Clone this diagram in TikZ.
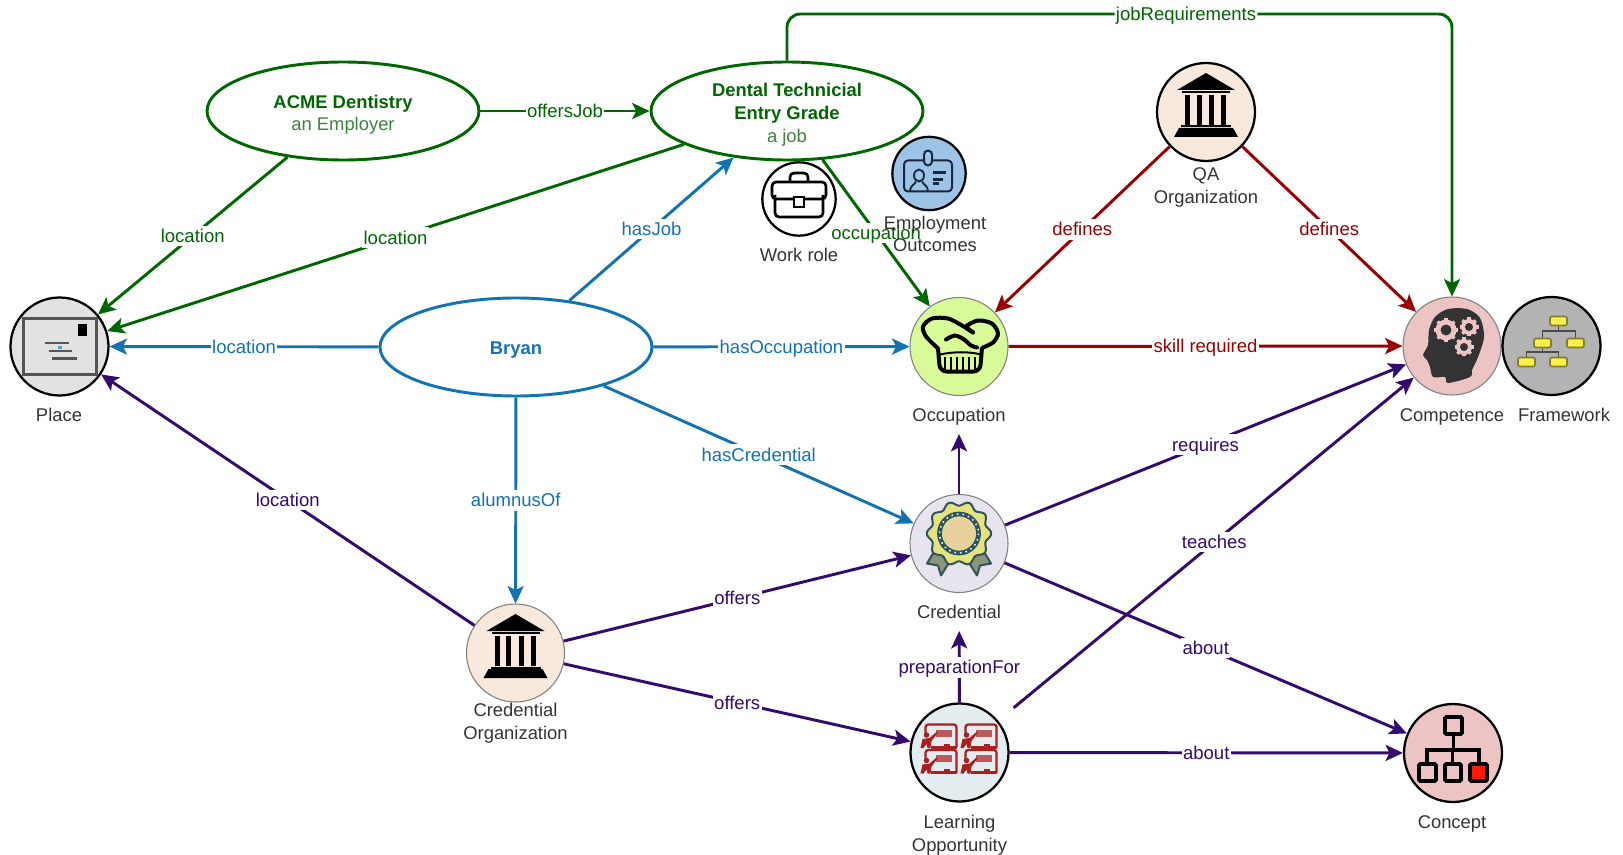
\documentclass[tikz,border=0pt]{standalone}
\usepackage{fontspec}
\setmainfont{Liberation Sans}
\usetikzlibrary{shapes.geometric, arrows.meta, positioning}
\definecolor{jobgreen}{RGB}{0, 102, 0}
\definecolor{jobsub}{RGB}{60, 130, 60}
\definecolor{personblue}{RGB}{17, 114, 180}
\definecolor{skillred}{RGB}{153, 0, 0}
\definecolor{credpurple}{RGB}{51, 10, 110}
\definecolor{captiongray}{RGB}{51, 51, 51}
\definecolor{bankfill}{RGB}{249, 233, 220}
\definecolor{placefill}{RGB}{226, 226, 226}
\definecolor{mailgray}{RGB}{85, 85, 85}
\definecolor{hatfill}{RGB}{216, 250, 152}
\definecolor{headfill}{RGB}{236, 196, 196}
\definecolor{framefill}{RGB}{179, 179, 179}
\definecolor{credfill}{RGB}{232, 228, 238}
\definecolor{learnfill}{RGB}{227, 237, 240}
\definecolor{badgefill}{RGB}{157, 195, 230}
\definecolor{ribbonteal}{RGB}{45, 85, 95}
\definecolor{ribbongray}{RGB}{142, 148, 120}
\definecolor{rosetteyellow}{RGB}{230, 226, 127}
\definecolor{rosettedisc}{RGB}{232, 208, 156}
\definecolor{boardred}{RGB}{170, 32, 32}
\definecolor{boxyellow}{RGB}{255, 238, 70}
\definecolor{boxedge}{RGB}{130, 125, 50}
\definecolor{badgenavy}{RGB}{25, 40, 65}
\tikzset{
  iconblack/.style={circle, draw=black, line width=1.7pt, minimum size=73.5pt, inner sep=0pt},
  icongray/.style={circle, draw=gray, line width=0.8pt, minimum size=73.5pt, inner sep=0pt},
  smallicon/.style={circle, draw=black, line width=1.7pt, minimum size=55pt, inner sep=0pt},
  bubble/.style={ellipse, line width=2.2pt, minimum width=204pt, minimum height=73.5pt, inner sep=-4pt, align=center, font=\fontsize{13.8}{17}\selectfont},
  caption/.style={text=captiongray, align=center, font=\fontsize{13.8}{17}\selectfont},
  onecaption/.style={caption, anchor=base},
  arrowedge/.style={line width=2.2pt, -{Stealth[length=13pt, width=12pt, inset=3pt]}},
  greenedge/.style={arrowedge, draw=jobgreen, text=jobgreen},
  blueedge/.style={arrowedge, draw=personblue, text=personblue},
  rededge/.style={arrowedge, draw=skillred, text=skillred},
  purpleedge/.style={arrowedge, draw=credpurple, text=credpurple},
  edgelabel/.style={fill=white, inner sep=1pt, text height=11.5pt, text depth=1.9pt, font=\fontsize{13.9}{16}\selectfont},
  bankicon/.pic={
    \fill (0,-39) -- (-29,-22) -- (29,-22) -- cycle;
    \fill (-24,-21) rectangle (24,-19);
    \foreach \c in {-21,-9.5,3,15} {
      \fill (\c,-17) rectangle (\c+5.3,13);
    }
    \fill (-25,13.5) rectangle (25,15.5);
    \fill (-27,16) -- (27,16) -- (32,25) -- (-32,25) -- cycle;
  },
  mailicon/.pic={
    \draw[line width=2.2pt, mailgray] (-36,-28) rectangle (37,28);
    \fill[black] (18,-22) rectangle (27,-10);
    \draw[line width=1.8pt, mailgray] (-15,-3.5) -- (9,-3.5);
    \draw[line width=1.8pt, mailgray] (-11,4.5) -- (12,4.5);
    \draw[line width=1.8pt, mailgray] (-8,12) -- (17,12);
    \fill[personblue!70] (-2,-0.5) rectangle (2,3);
  },
  haticon/.pic={
    \draw[line width=3pt, line cap=round, line join=round] plot[smooth] coordinates {(-21,2) (-33,-10) (-36,-20) (-27,-28) (-11,-28) (3,-21) (14,-14)};
    \draw[line width=3pt, line cap=round, line join=round] plot[smooth] coordinates {(8,-21) (19,-26) (33,-23) (39,-13) (34,-4) (24,1)};
    \draw[line width=3pt, line cap=round] plot[smooth] coordinates {(-13,-7) (-4,-11) (5,-7) (12,-1) (18,1)};
    \draw[line width=3pt, line cap=round, line join=round] plot[smooth] coordinates {(14,-14) (9,-18) (8,-21)};
    \draw[line width=3pt, rounded corners=5pt] (-21,2) -- (-19,25) -- (21,25) -- (23,1);
    \draw[line width=1.5pt] (-19,8) .. controls (-5,5) and (10,5) .. (22,8);
    \foreach \c in {-14,-8,-2,4,10,16} {
      \draw[line width=1.6pt] (\c,11) -- (\c,23);
    }
  },
  headicon/.pic={
    \fill[black!80] plot[smooth cycle, tension=0.5] coordinates {(-4,-37) (15,-37) (28,-28) (32,-9) (26,11) (20,24) (18,31) (-4,37) (-7,31) (-19,31) (-22,21) (-25,14) (-29,9) (-24,-1) (-23,-16) (-17,-29)};
    \foreach \cx/\cy/\r/\h in {-6/-16/12/5.5, 17/-19/9.5/4, 12/1/9.5/4} {
      \foreach \a in {0,45,...,135} {
        \draw[headfill, line width=2.4pt] (\cx,\cy) ++(\a:\r) -- ++(\a+180:2*\r);
      }
      \fill[headfill] (\cx,\cy) circle (\r-1.5);
      \fill[black!80] (\cx,\cy) circle (\h);
    }
  },
  treeicon/.pic={
    \draw[line width=0.8pt, black!70] (7,-25) -- (7,-15) (-9,-3) -- (-9,-15) -- (24,-15) -- (24,-3);
    \draw[line width=0.8pt, black!70] (-9,-3) -- (-9,6) (-25,16) -- (-25,6) -- (7,6) -- (7,16);
    \foreach \bx/\by in {7/-25, -9/-3, 24/-3, -25/16, 7/16} {
      \draw[boxedge, fill=boxyellow, line width=1.2pt, rounded corners=1.5pt] (\bx-8.5,\by-4.5) rectangle (\bx+8.5,\by+4.5);
    }
  },
  rosetteicon/.pic={
    \foreach \s in {-1,1} {
      \draw[ribbonteal, fill=ribbongray, line width=1.5pt, line join=round] (\s*23,15) -- (\s*6,23) -- (\s*18,42) -- (\s*21,32) -- (\s*32,30) -- cycle;
    }
    \draw[ribbonteal, fill=rosetteyellow, line width=1.5pt] plot[domain=0:360, samples=121, smooth] (\x:{30+2.2*cos(10*\x)}) -- cycle;
    \draw[ribbonteal, line width=3.6pt] (0,0) circle (19.5);
    \draw[learnfill, line width=1.2pt, dash pattern=on 1.2pt off 3pt] (0,0) circle (19.5);
    \fill[rosettedisc] (0,0) circle (16);
  },
  boardcell/.pic={
    \draw[boardred, line width=1.7pt, rounded corners=2pt] (-13,-3) -- (-13,-11.5) -- (18,-11.5) -- (18,11);
    \fill[boardred!75] (-3,-6.5) rectangle (13,0.5);
    \fill[boardred] (-12,-1) circle (2.8);
    \fill[boardred] (-18,12) -- (-16,3) -- (-9,2) -- (-2,-4) -- (-1,-3) -- (-7,5) -- (-8,12) -- (-11,12) -- (-12,8) -- (-15,12) -- cycle;
    \fill[boardred] (-8,9.5) rectangle (18,12.5);
    \fill[boardred] (5,7.5) rectangle (11,9.5);
  },
  classicon/.pic={
    \foreach \bx/\by in {-21/-16.5, 19/-16.5, -21/9, 19/9} {
      \pic at (\bx,\by) {boardcell};
    }
  },
  concepticon/.pic={
    \draw[line width=2.8pt, rounded corners=1pt] (-8,-36) rectangle (9,-19);
    \draw[line width=2.8pt] (0.5,-19) -- (0.5,-3) (-26,11) -- (-26,-3) -- (26,-3) -- (26,11) (-0.5,-3) -- (-0.5,11);
    \draw[line width=2.8pt, rounded corners=1pt] (-34,11) rectangle (-17,28);
    \draw[line width=2.8pt, rounded corners=1pt] (-8,11) rectangle (8,28);
    \draw[line width=2.8pt, rounded corners=1pt, fill=red!80!orange] (17,11) rectangle (34,28);
  },
  caseicon/.pic={
    \draw[line width=2pt, rounded corners=3pt] (-9,-17) -- (-9,-26) -- (9,-26) -- (9,-17);
    \draw[line width=2pt, rounded corners=3pt] (-27,-17) rectangle (27,0);
    \draw[line width=2pt, rounded corners=3pt] (-24,-4) -- (-24,18) -- (24,18) -- (24,-4);
    \draw[line width=2pt, fill=white] (-5,-2) rectangle (5,8);
  },
  badgeicon/.pic={
    \draw[badgenavy, line width=1.5pt, rounded corners=3pt] (-25,-13) rectangle (23,18);
    \draw[badgenavy, line width=1.5pt, fill=badgefill, rounded corners=3pt] (-5,-23) rectangle (3,-8);
    \draw[badgenavy, line width=1.4pt] (-10,2) ellipse (5 and 6);
    \draw[badgenavy, line width=1.4pt] (-19,18) .. controls (-19,12) and (-15,12) .. (-13,8) (-7,8) .. controls (-5,12) and (-1,12) .. (-1,18);
    \draw[badgenavy, line width=1.6pt] (4,-1) -- (17,-1) (4,6) -- (14,6) (4,10) -- (10,10);
  },
}

\begin{document}
\begin{tikzpicture}[x=0.75pt, y=-0.75pt]
  \useasboundingbox (0,0) rectangle (1623,855);

  % --- Ellipses ---
  \node[bubble, draw=jobgreen] (acme) at (343,111) {\rule{0pt}{15.5pt}\textcolor{jobgreen}{\bfseries ACME Dentistry}\\\textcolor{jobsub}{an Employer}};
  \node[bubble, draw=jobgreen] (dental) at (787,111) {\rule{0pt}{15.5pt}\textcolor{jobgreen}{\bfseries Dental Technicial}\\\textcolor{jobgreen}{\bfseries Entry Grade}\\\textcolor{jobsub}{a job}};
  \node[bubble, draw=personblue] (bryan) at (516,347) {\rule{0pt}{14.5pt}\textcolor{personblue}{\bfseries Bryan}};

  % --- Circles with their icons ---
  \node[iconblack, fill=placefill] (place) at (59.5,346.5) {};
  \pic at (place) {mailicon};
  \node[icongray, fill=hatfill] (occupation) at (959,346.5) {};
  \pic at (occupation) {haticon};
  \node[icongray, fill=headfill] (competence) at (1452,346) {};
  \pic at (competence) {headicon};
  \node[iconblack, fill=framefill] (framework) at (1551.5,346) {};
  \pic at (framework) {treeicon};
  \node[iconblack, fill=bankfill] (qa) at (1206,112) {};
  \pic at (qa) {bankicon};
  \node[icongray, fill=bankfill] (credorg) at (515.5,653) {};
  \pic at (credorg) {bankicon};
  \node[icongray, fill=credfill] (credential) at (959,543.5) {};
  \pic at ([yshift=7.5pt]credential) {rosetteicon};
  \node[iconblack, fill=learnfill] (learning) at (959.5,752.5) {};
  \pic at (learning) {classicon};
  \node[iconblack, fill=headfill] (concept) at (1453,753) {};
  \pic at (concept) {concepticon};
  \node[smallicon, fill=white] (workrole) at (799,199) {};
  \pic at (workrole) {caseicon};
  \node[smallicon, fill=badgefill] (outcomes) at (929,173.5) {};
  \pic at (outcomes) {badgeicon};

  % --- Captions ---
  \node[onecaption] (placetext) at (59,421.6) {Place};
  \node[onecaption] (occupationtext) at (959,421.6) {Occupation};
  \node[onecaption] (competencetext) at (1452,421.6) {Competence};
  \node[onecaption] (frameworktext) at (1564,421.6) {Framework};
  \node[caption] (qatext) at (1206,187.5) {QA\\Organization};
  \node[caption] (credorgtext) at (515.5,723.5) {Credential\\Organization};
  \node[onecaption] (credentialtext) at (959,618.6) {Credential};
  \node[caption] (learningtext) at (959.5,835.5) {Learning\\Opportunity};
  \node[onecaption] (concepttext) at (1452,828) {Concept};
  \node[onecaption] (workroletext) at (799,261.6) {Work role};

  % --- Green edges ---
  \draw[greenedge] (acme) -- node[edgelabel] (acmeplace) {location} (place);
  \draw[greenedge] (dental) -- node[edgelabel] (dentalplace) {location} (place);
  \draw[greenedge] (acme) -- node[edgelabel] (acmedental) {offersJob} (dental);
  \draw[greenedge] (dental) -- node[edgelabel] (dentaloccupation) {occupation} (occupation);
  \coordinate (jobturn) at (1452,14);
  \draw[greenedge, rounded corners=10pt] (dental.north) |- node[edgelabel, pos=0.8] (jobreq) {jobRequirements} (jobturn) -- (competence.north);

  % --- Blue edges ---
  \draw[blueedge] (bryan) -- node[edgelabel] (bryanplace) {location} (place);
  \draw[blueedge] (bryan) -- node[edgelabel] (bryanjob) {hasJob} (dental);
  \draw[blueedge] (bryan) -- node[edgelabel] (bryanoccupation) {hasOccupation} (occupation);
  \draw[blueedge] (bryan) -- node[edgelabel] (bryancredential) {hasCredential} (credential);
  \draw[blueedge] (bryan) -- node[edgelabel] (bryanorg) {alumnusOf} (credorg);

  % --- Red edges ---
  \draw[rededge] (occupation) -- node[edgelabel] (skillreq) {skill required} (competence);
  \draw[rededge] (qa) -- node[edgelabel] (qaoccupation) {defines} (occupation);
  \draw[rededge] (qa) -- node[edgelabel] (qacompetence) {defines} (competence);

  % --- Purple edges ---
  \draw[purpleedge] (credorg) -- node[edgelabel] (orgplace) {location} (place);
  \draw[purpleedge] (credorg) -- node[edgelabel] (orgcredential) {offers} (credential);
  \draw[purpleedge] (credorg) -- node[edgelabel] (orglearning) {offers} (learning);
  \draw[purpleedge, shorten >=28.5pt] (learning) -- node[edgelabel, pos=0.32] (learnprep) {preparationFor} (credential);
  \draw[purpleedge, shorten >=28.5pt] (credential) -- (occupation);
  \draw[purpleedge] (credential) -- node[edgelabel] (credrequires) {requires} (competence);
  \draw[purpleedge] (credential) -- node[edgelabel] (credabout) {about} (concept);
  \draw[purpleedge, shorten <=15pt] (learning) -- node[edgelabel, pos=0.52] (learnteaches) {teaches} (competence);
  \draw[purpleedge] (learning) -- node[edgelabel] (learnabout) {about} (concept);

  % --- This caption sits over the occupation label ---
  \node[caption] (outcomestext) at (935,234) {Employment\\Outcomes};
\end{tikzpicture}
\end{document}
